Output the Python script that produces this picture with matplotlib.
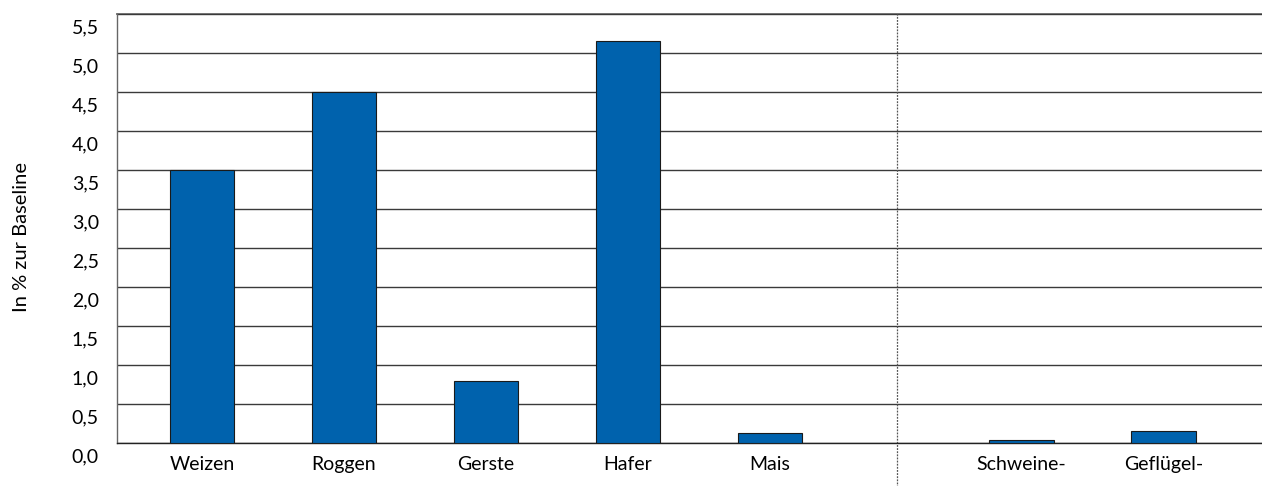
import matplotlib
matplotlib.use("Agg")
import matplotlib.pyplot as plt
from matplotlib.transforms import ScaledTranslation
import numpy as np

plt.rcParams['font.family'] = ['Lato', 'DejaVu Sans']

categories = ['Weizen', 'Roggen', 'Gerste', 'Hafer', 'Mais', 'Schweine-', 'Geflügel-']
values = [3.5, 4.5, 0.8, 5.15, 0.13, 0.04, 0.15]
# slot positions (right group sits in its own section after the divider)
positions = [0, 1, 2, 3, 4, 5.77, 6.77]
divider = 4.894
yticks = np.arange(0, 5.51, 0.5)
ytick_labels = ['%.1f' % v for v in yticks]
ytick_labels = [s.replace('.', ',') for s in ytick_labels]

fig = plt.figure(figsize=(12.62, 4.86), dpi=100)
ax = fig.add_axes([117 / 1262, 43 / 486, 1 - 117 / 1262, 429 / 486])

ax.bar(positions, values, width=0.455, color='#0062AD', edgecolor='#1a1a1a',
       linewidth=0.8, zorder=3)

ax.set_xlim(-0.599, 7.465)
ax.set_ylim(0, 5.5)
ax.set_yticks(yticks)
ax.set_yticklabels(ytick_labels, fontsize=14)
ax.set_xticks(positions)
ax.set_xticklabels(categories, fontsize=14)
ax.tick_params(axis='both', length=0)
ax.tick_params(axis='y', pad=13)
ax.tick_params(axis='x', pad=9)

# labels sit a bit below their gridline
shift = ScaledTranslation(0, -12 / 100, fig.dpi_scale_trans)
for lab in ax.get_yticklabels():
    lab.set_transform(lab.get_transform() + shift)

ax.grid(axis='y', color='#3a3a3a', linewidth=1.0, zorder=0)
ax.axhline(5.5, color='#666666', linewidth=1.3, zorder=1, clip_on=False)

for side in ['top', 'right']:
    ax.spines[side].set_visible(False)
ax.spines['left'].set_color('#666666')
ax.spines['left'].set_linewidth(1.0)
ax.spines['bottom'].set_color('#222222')
ax.spines['bottom'].set_linewidth(1.0)

ax.axvline(divider, ymin=-0.11, ymax=1, color='#555555', linewidth=0.9,
           linestyle=(0, (1.5, 1)), clip_on=False, zorder=2)

fig.text(22 / 1262, 1 - 237 / 486, 'In % zur Baseline', rotation=90,
         ha='center', va='center', fontsize=14.5)

fig.savefig('out.png', dpi=100)
